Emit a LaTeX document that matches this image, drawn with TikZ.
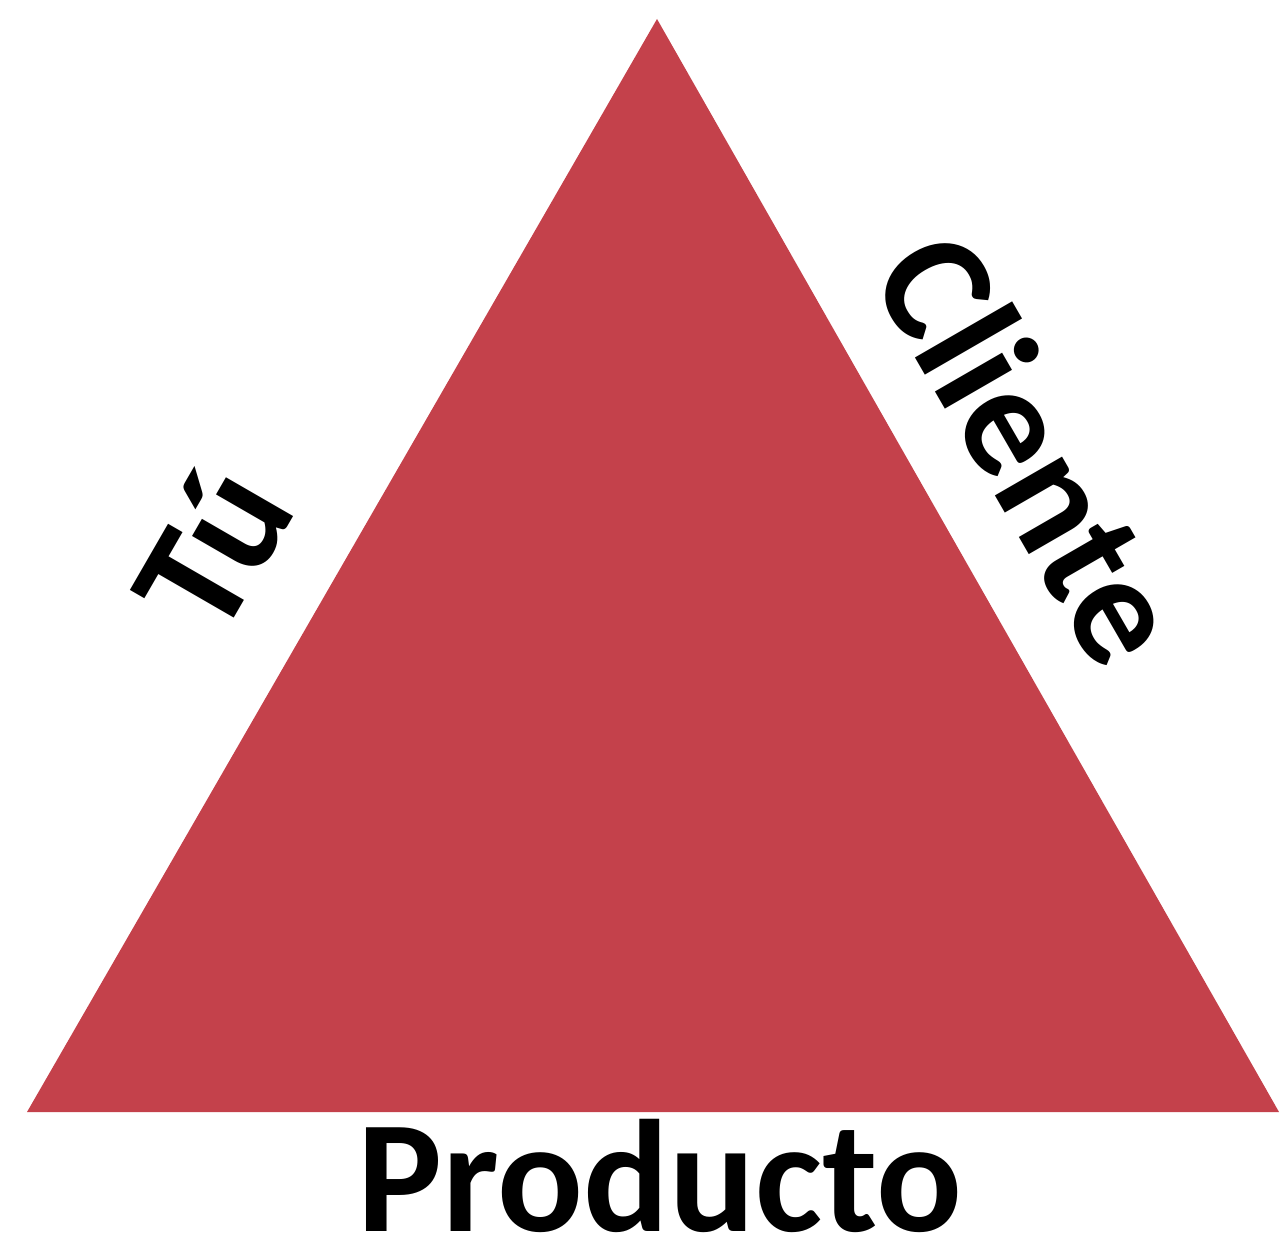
\documentclass[tikz,border=0pt]{standalone}
\usepackage{fontspec}
\setmainfont{Carlito}
\definecolor{trired}{HTML}{C4414B}
\tikzset{lbl/.style={font=\fontsize{45.5}{52}\selectfont\bfseries, inner sep=0pt, anchor=base}}
\begin{document}
\begin{tikzpicture}[x=0.01cm, y=-0.01cm]
                \useasboundingbox (0,0) rectangle (1280,1246);
                \fill[trired] (657,19) -- (27,1112) -- (1279,1112) -- cycle;
                \node (tu) at (259,576) [lbl, rotate=60] {Tú};
                \node (cliente) at (984,476) [lbl, rotate=-60] {Cliente};
                \node (producto) at (660,1231) [lbl] {Producto};
            \end{tikzpicture}
\end{document}
